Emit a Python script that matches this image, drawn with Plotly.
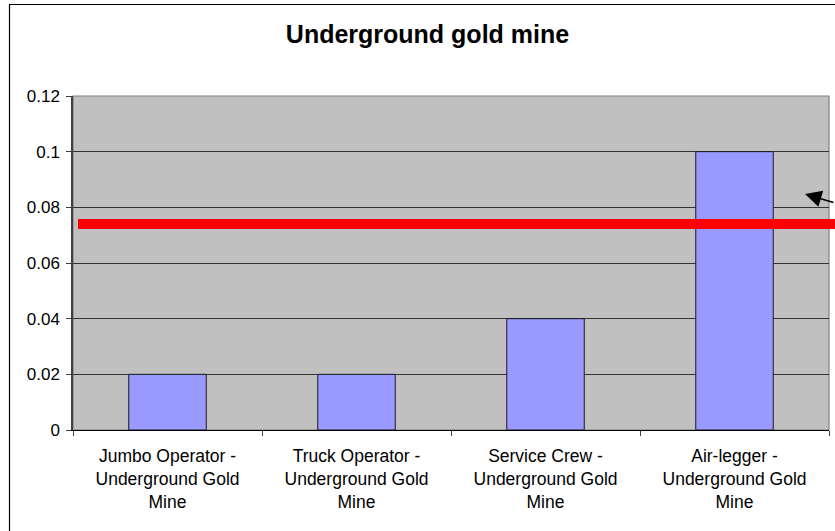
import plotly.graph_objects as go

# Exposure by job role (underground gold mine)
categories = [
    "Jumbo Operator -<br>Underground Gold<br>Mine",
    "Truck Operator -<br>Underground Gold<br>Mine",
    "Service Crew -<br>Underground Gold<br>Mine",
    "Air-legger -<br>Underground Gold<br>Mine",
]
values = [0.02, 0.02, 0.04, 0.10]
limit_value = 0.074

y_ticks = [0, 0.02, 0.04, 0.06, 0.08, 0.1, 0.12]
y_ticktext = ["0", "0.02", "0.04", "0.06", "0.08", "0.1", "0.12"]
y_max = 0.12

W, H = 835, 531
ML, MR, MT, MB = 73, 6, 96, 101
PW, PH = W - ML - MR, H - MT - MB


def px_x(px):
    return (px - ML) / PW


def px_y(py):
    return (H - MB - py) / PH


FONT = "Arial, Liberation Sans, sans-serif"

fig = go.Figure()
fig.add_trace(go.Bar(
    x=categories,
    y=values,
    marker=dict(color="#9999FF", line=dict(color="#1a1a1a", width=1)),
    hoverinfo="x+y",
))

shapes = [
    # chart frame
    dict(type="rect", xref="paper", yref="paper",
         x0=px_x(9.5), x1=px_x(870), y0=px_y(4.5), y1=px_y(560),
         line=dict(color="black", width=1.2), fillcolor="rgba(0,0,0,0)",
         layer="below"),
    # plot area border
    dict(type="rect", xref="paper", yref="paper", x0=0, x1=1, y0=0, y1=1,
         line=dict(color="#808080", width=1.2), fillcolor="rgba(0,0,0,0)",
         layer="below"),
    # threshold line
    dict(type="line", xref="paper", yref="paper",
         x0=px_x(78), x1=px_x(860),
         y0=limit_value / y_max, y1=limit_value / y_max,
         line=dict(color="#FF0000", width=10), layer="above"),
]

annotations = [
    dict(xref="paper", yref="paper", x=px_x(805), y=px_y(194),
         ax=40, ay=9, text="", showarrow=True,
         arrowhead=2, arrowsize=2.2, arrowwidth=1.5, arrowcolor="black"),
]

fig.update_layout(
    width=W, height=H,
    margin=dict(l=ML, r=MR, t=MT, b=MB),
    paper_bgcolor="white",
    plot_bgcolor="#C0C0C0",
    bargap=0.59,
    showlegend=False,
    title=dict(text="<b>Underground gold mine</b>",
               font=dict(family=FONT, size=25, color="black"),
               x=427.5 / W, xanchor="center", xref="container",
               y=1 - 34 / H, yanchor="middle"),
    font=dict(family=FONT, size=17, color="black"),
    shapes=shapes,
    annotations=annotations,
)

fig.update_xaxes(
    type="category",
    showgrid=False,
    showline=True, linecolor="black", linewidth=1.2,
    ticks="outside", ticklen=5, tickcolor="#404040", tickwidth=1.2,
    tickson="boundaries",
    ticklabelstandoff=10,
    tickfont=dict(family=FONT, size=17.5, color="black"),
    tickangle=0,
)
fig.update_yaxes(
    range=[0, y_max],
    tickvals=y_ticks, ticktext=y_ticktext,
    showgrid=True, gridcolor="#333333", gridwidth=1,
    zeroline=False,
    showline=True, linecolor="#404040", linewidth=1.5,
    ticks="outside", ticklen=5, tickcolor="#404040", tickwidth=1.2,
    ticklabelstandoff=3,
    tickfont=dict(family=FONT, size=17, color="black"),
)

fig.write_html("out.html")
